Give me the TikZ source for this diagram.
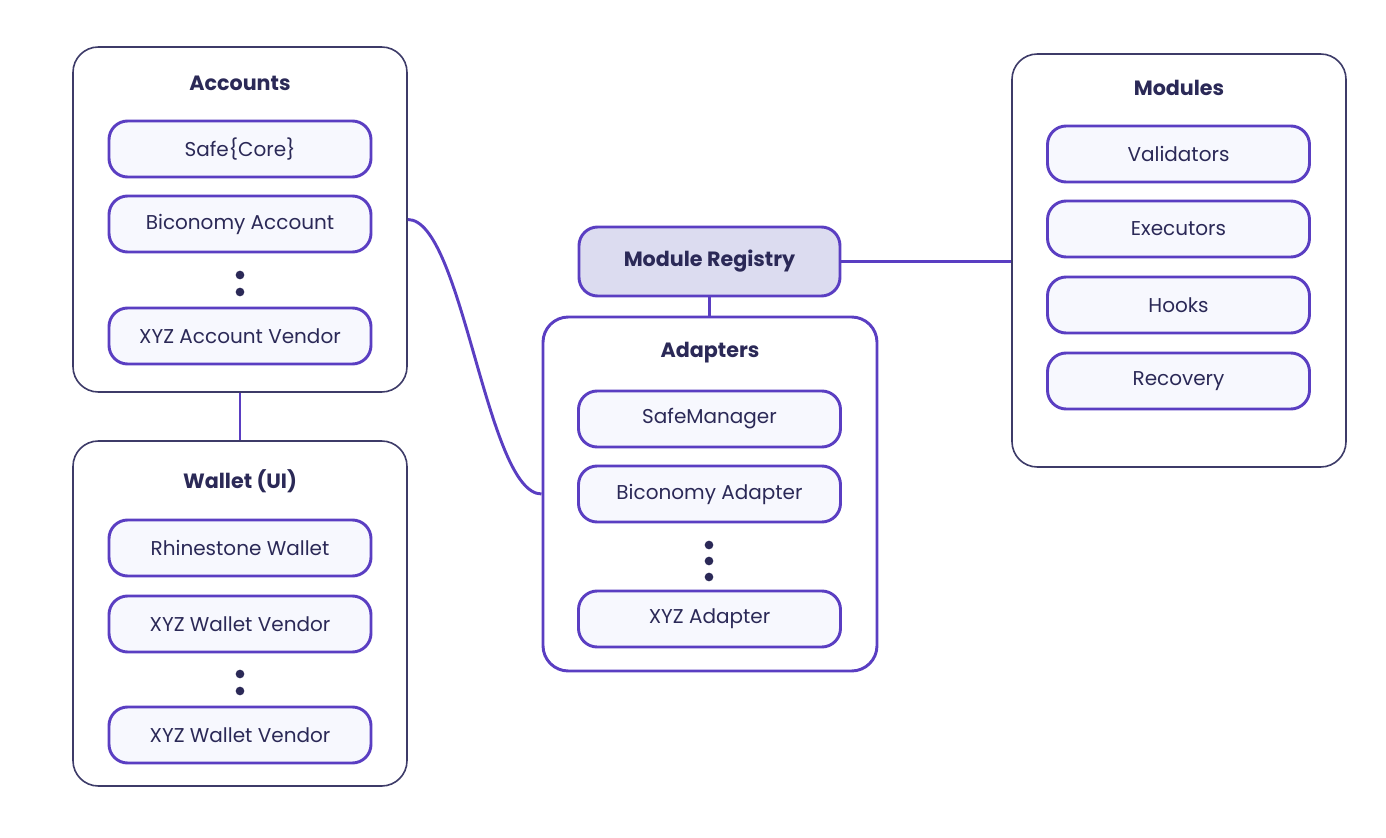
\documentclass[tikz,border=0pt]{standalone}
\usepackage{fontspec}
\setmainfont{Poppins}
\definecolor{purp}{HTML}{5A3EC2}
\definecolor{navy}{HTML}{2B2957}
\definecolor{outerline}{HTML}{3D3B68}
\definecolor{innerfill}{HTML}{F7F8FE}
\definecolor{regfill}{HTML}{DCDCF0}
\tikzset{
  outerbox/.style={draw=outerline, line width=1.2pt, rounded corners=19pt, fill=white, minimum width=250.5pt, inner sep=0pt},
  itembox/.style={draw=purp, line width=2.2pt, rounded corners=14pt, fill=innerfill, minimum width=196.5pt, minimum height=42pt, text=navy, font=\fontsize{15}{17}\selectfont, inner sep=0pt},
  titletext/.style={text=navy, font=\fontsize{15.5}{18}\selectfont\bfseries, inner sep=0pt},
  conn/.style={draw=purp, line width=2.2pt},
  dotmark/.style={circle, fill=navy, minimum size=6.5pt, inner sep=0pt}
}
\begin{document}
\begin{tikzpicture}[x=0.75pt,y=-0.75pt]
\useasboundingbox (0,0) rectangle (1386,838);
% outer boxes
\node[outerbox, minimum height=258.75pt] (acc) at (240,219.5) {};
\node[outerbox, minimum height=258.75pt] (wal) at (240,613.5) {};
\node[outerbox, minimum height=309.75pt] (mods) at (1179,260.5) {};
\node[outerbox, draw=purp, line width=2.2pt, minimum height=265.5pt] (adp) at (710,494) {};
\node[draw=purp, line width=2.2pt, rounded corners=14pt, fill=regfill, minimum width=195.75pt, minimum height=51.75pt, text=navy, font=\fontsize{15.5}{18}\selectfont\bfseries, inner sep=0pt] (reg) at (709.5,261.5) {Module Registry};
% titles
\node[titletext] (acct) at (240,83) {Accounts};
\node[titletext] (walt) at (240,481) {Wallet (UI)};
\node[titletext] (modt) at (1179,88) {Modules};
\node[titletext] (adpt) at (710,353) {Adapters};
% accounts items
\node[itembox] (a1) at (240,149) {Safe\{Core\}};
\node[itembox] (a2) at (240,224) {Biconomy Account};
\node[dotmark] (ad1) at (240,275) {};
\node[dotmark] (ad2) at (240,292) {};
\node[itembox] (a3) at (240,336) {XYZ Account Vendor};
% wallet items
\node[itembox] (w1) at (240,548) {Rhinestone Wallet};
\node[itembox] (w2) at (240,624) {XYZ Wallet Vendor};
\node[dotmark] (wd1) at (240,674) {};
\node[dotmark] (wd2) at (240,691) {};
\node[itembox] (w3) at (240,735) {XYZ Wallet Vendor};
% adapters items
\node[itembox] (p1) at (709.5,419) {SafeManager};
\node[itembox] (p2) at (709.5,494) {Biconomy Adapter};
\node[dotmark] (pd1) at (709,545) {};
\node[dotmark] (pd2) at (709,561) {};
\node[dotmark] (pd3) at (709,577) {};
\node[itembox] (p3) at (709.5,619) {XYZ Adapter};
% modules items
\node[itembox] (m1) at (1178.5,154) {Validators};
\node[itembox] (m2) at (1178.5,229) {Executors};
\node[itembox] (m3) at (1178.5,305) {Hooks};
\node[itembox] (m4) at (1178.5,381) {Recovery};
% connectors
\draw[conn] (acc.south) -- (wal.north);
\draw[conn] (reg.south) -- (reg.south |- adp.north);
\draw[conn] (reg.east) -- (reg.east -| mods.west);
\draw[conn] (acc.east) .. controls +(55,0) and +(-55,0) .. (adp.west);
\end{tikzpicture}
\end{document}
